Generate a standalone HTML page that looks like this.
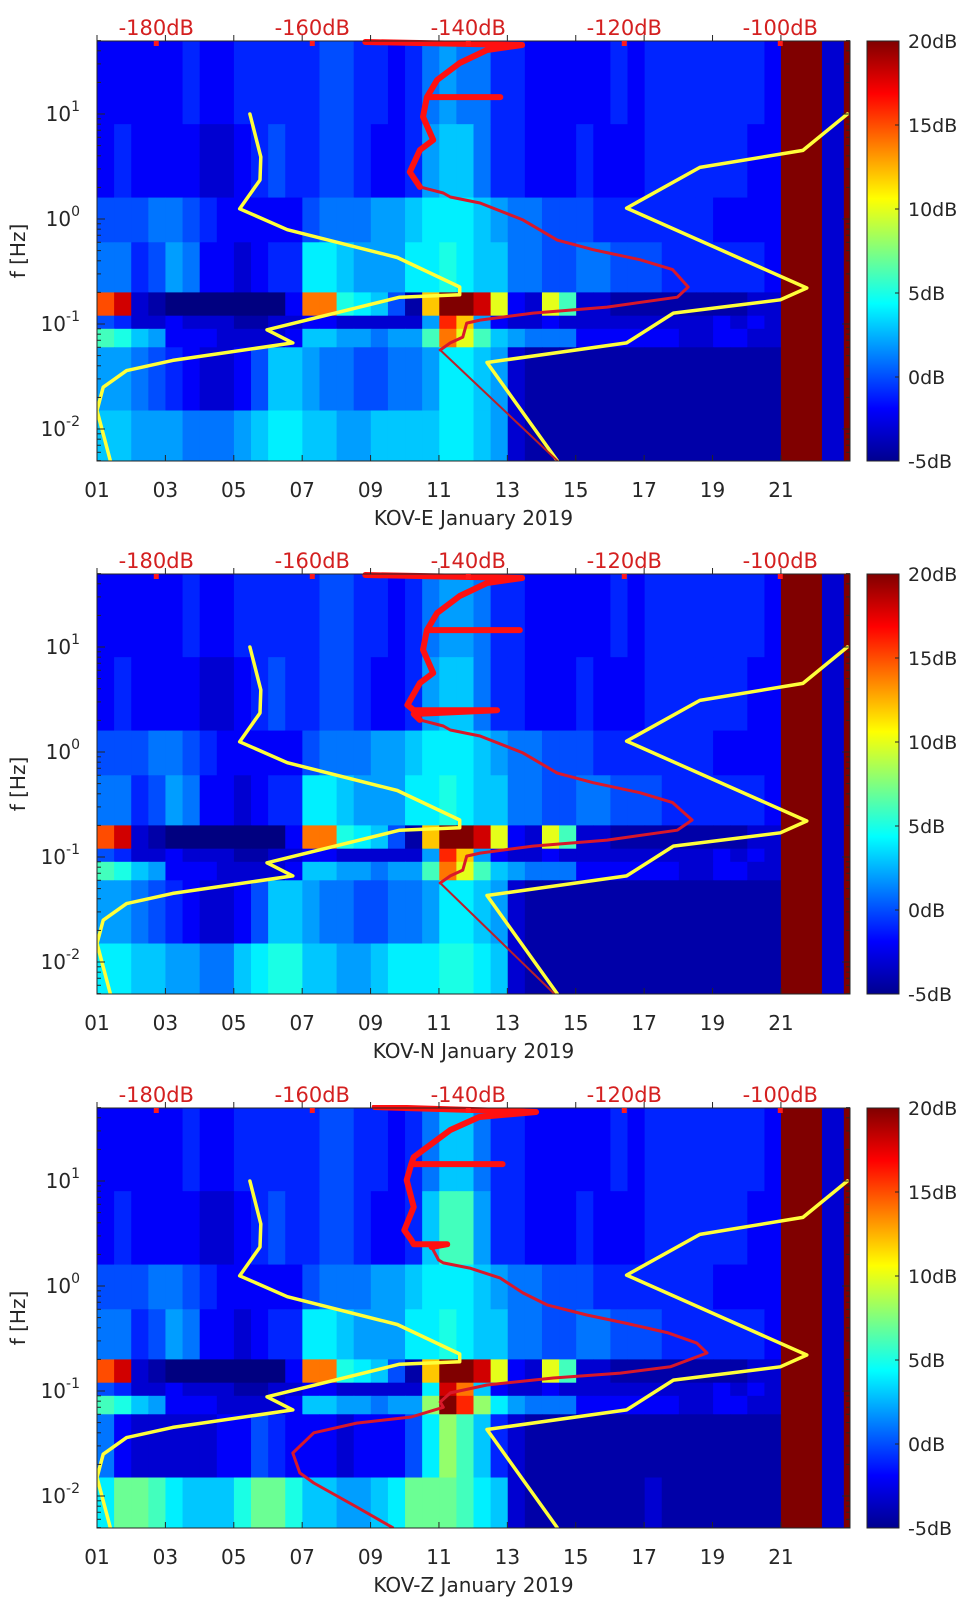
<!DOCTYPE html>
<html><head><meta charset="utf-8">
<style>
html,body{margin:0;padding:0;background:#fff;}
svg{display:block;font-family:"DejaVu Sans","Liberation Sans",sans-serif;}
</style></head>
<body>
<svg id="fig" width="962" height="1599" viewBox="0 0 962 1599" xmlns="http://www.w3.org/2000/svg">
<defs>
<linearGradient id="jet" x1="0" y1="1" x2="0" y2="0">
<stop offset="0" stop-color="#00008f"/>
<stop offset="0.125" stop-color="#0000ff"/>
<stop offset="0.375" stop-color="#00ffff"/>
<stop offset="0.625" stop-color="#ffff00"/>
<stop offset="0.875" stop-color="#ff0000"/>
<stop offset="1" stop-color="#800000"/>
</linearGradient>
</defs>
</svg>
<script>
// ---- data ----
const panelNames = ["KOV-E January 2019","KOV-N January 2019","KOV-Z January 2019"];
const dayTicks = [1,3,5,7,9,11,13,15,17,19,21];
const dayTickLabels = ["01","03","05","07","09","11","13","15","17","19","21"];
const dbTicks = [-180,-160,-140,-120,-100];
const dbTickLabels = ["-180dB","-160dB","-140dB","-120dB","-100dB"];
const cbTicks = [20,15,10,5,0,-5];
const cbTickLabels = ["20dB","15dB","10dB","5dB","0dB","-5dB"];
const rowEdgesHz = [50,8,1.6,0.6,0.2,0.12,0.09,0.06,0.015,0.005];
const gapStart = [21,22.84];
const gapEnd = [22.2,23.02];

const heatE = [
[-2,-2,-2,-2,-2,-1,-2,-2,-1,-1,-1,-1,-1,0,0,-1,-1,-2,-1,1,2,1,1,-1,-1,-2,-2,-2,-2,-2,-1,-2,-1,-1,-1,-1,-1,-1,-1,-2,20,20,-3,-3],
[-2,-1,-2,-2,-2,-2,-3,-3,-2,-1,0,-1,-1,0,0,-1,-2,-2,-1,2,3,3,1,-1,-1,-2,-2,-2,-1,-2,-2,-2,-1,-1,-1,-1,-1,-1,-2,-2,20,20,-3,-3],
[0,0,0,1,1,0,-1,-2,-2,-2,-2,-2,0,1,1,1,2,2,3,4,4,4,3,2,1,1,0,0,0,-1,-1,-1,-1,-1,-1,-1,-2,-2,-2,-2,20,20,-3,-3],
[1,1,-1,0,2,1,-2,-2,-3,-2,-1,-1,4,4,3,2,2,2,4,4,5,4,3,3,1,1,0,0,1,1,0,0,0,-1,-1,-1,-1,-1,-1,-2,20,20,-3,-3],
[15,18,-3,-4,-5,-5,-5,-5,-5,-5,-5,-2,14,14,5,4,3,0,-4,12,20,20,18,10,-2,-3,10,6,-3,-3,-4,-4,-4,-4,-4,-4,-4,-4,-3,-3,20,20,-3,-3],
[0,-1,-3,-3,-2,-3,-3,-3,-4,-4,-3,-3,-2,-2,-3,-3,-3,-3,-3,2,16,12,2,-2,-3,-3,-2,-3,-3,-3,-3,-3,-3,-3,-3,-3,-2,-3,-2,-3,20,20,-3,-3],
[6,5,3,2,-2,-2,-2,-3,-3,-3,-3,-2,3,3,2,2,1,2,2,6,14,10,6,3,2,1,1,1,-2,-2,-2,-2,-2,-2,-3,-3,-2,-2,-3,-3,20,20,-3,-3],
[2,2,1,0,-1,-2,-3,-3,-2,0,3,3,2,1,1,0,0,1,1,2,4,4,3,2,-3,-4,-4,-4,-4,-4,-4,-4,-4,-4,-4,-4,-4,-4,-4,-4,20,20,-3,-3],
[3,3,2,2,2,1,1,1,2,3,4,4,3,3,2,2,3,3,3,3,4,4,3,2,-3,-4,-4,-4,-4,-4,-4,-4,-4,-4,-4,-4,-4,-4,-4,-4,20,20,-3,-3]
];
const heatN = [
[-2,-2,-2,-2,-2,-1,-2,-2,-1,-1,-1,-1,-1,0,0,-1,-1,-2,-1,1,2,2,1,-1,-1,-2,-2,-2,-2,-2,-1,-2,-1,-1,-1,-1,-1,-1,-1,-2,20,20,-3,-3],
[-2,-1,-2,-2,-2,-2,-3,-3,-2,-1,0,-1,-1,0,0,-1,-2,-2,-1,2,3,3,1,-1,-1,-2,-2,-2,-1,-2,-2,-2,-1,-1,-1,-1,-1,-1,-2,-2,20,20,-3,-3],
[0,0,0,1,1,0,-1,-2,-2,-2,-2,-2,0,1,1,1,2,2,3,4,4,4,3,2,1,1,0,0,0,-1,-1,-1,-1,-1,-1,-1,-2,-2,-2,-2,20,20,-3,-3],
[1,1,-1,0,2,1,-2,-2,-3,-2,-1,-1,4,4,3,2,2,2,4,4,5,4,3,3,1,1,0,0,1,1,0,0,0,-1,-1,-1,-1,-1,-1,-2,20,20,-3,-3],
[15,18,-3,-4,-5,-5,-5,-5,-5,-5,-5,-2,14,14,5,4,3,0,-4,12,20,20,18,10,-2,-3,10,6,-3,-3,-4,-4,-4,-4,-4,-4,-4,-4,-3,-3,20,20,-3,-3],
[0,-1,-3,-3,-2,-3,-3,-3,-4,-4,-3,-3,-2,-2,-3,-3,-3,-3,-3,2,16,12,2,-2,-3,-3,-2,-3,-3,-3,-3,-3,-3,-3,-3,-3,-2,-3,-2,-3,20,20,-3,-3],
[6,5,3,2,-2,-2,-2,-3,-3,-3,-3,-2,3,3,2,2,1,2,2,6,14,10,6,3,2,1,1,1,-2,-2,-2,-2,-2,-2,-3,-3,-2,-2,-3,-3,20,20,-3,-3],
[2,2,1,0,-1,-2,-3,-3,-2,0,3,3,2,1,1,0,0,1,1,2,4,4,3,2,-3,-4,-4,-4,-4,-4,-4,-4,-4,-4,-4,-4,-4,-4,-4,-4,20,20,-3,-3],
[4,4,3,3,2,2,1,1,3,4,5,5,3,3,2,2,3,4,4,4,5,5,4,3,-3,-4,-4,-4,-4,-4,-4,-4,-4,-4,-4,-4,-4,-4,-4,-4,20,20,-3,-3]
];
const heatZ = [
[-2,-2,-2,-2,-2,-1,-2,-2,-1,-1,-1,-1,-1,0,0,-1,-1,-2,-1,1,3,3,1,-1,-1,-2,-2,-2,-2,-2,-1,-2,-1,-1,-1,-1,-1,-1,-1,-2,20,20,-3,-3],
[-2,-1,-2,-2,-2,-2,-3,-3,-2,-1,0,-1,-1,0,0,-1,-2,-2,-1,3,6,6,2,-1,-1,-2,-2,-2,-1,-2,-2,-2,-1,-1,-1,-1,-1,-1,-2,-2,20,20,-3,-3],
[0,0,0,1,1,0,-1,-2,-2,-2,-2,-2,0,1,1,1,2,2,3,4,4,4,3,2,1,1,0,0,0,-1,-1,-1,-1,-1,-1,-1,-2,-2,-2,-2,20,20,-3,-3],
[1,1,-1,0,2,1,-2,-2,-3,-2,-1,-1,4,4,3,2,2,2,4,4,5,4,3,3,1,1,0,0,1,1,0,0,0,-1,-1,-1,-1,-1,-1,-2,20,20,-3,-3],
[15,18,-3,-4,-5,-5,-5,-5,-5,-5,-5,-2,14,14,5,4,3,0,-4,12,20,20,18,10,-2,-3,10,6,-3,-3,-4,-4,-4,-4,-4,-4,-4,-4,-3,-3,20,20,-3,-3],
[0,-1,-3,-3,-2,-3,-3,-3,-4,-4,-3,-3,-2,-2,-3,-3,-3,-3,-3,4,18,14,3,-2,-3,-3,-2,-3,-3,-3,-3,-3,-3,-3,-3,-3,-2,-3,-2,-3,20,20,-3,-3],
[6,5,3,2,-2,-2,-2,-3,-3,-3,-3,-2,3,3,2,2,1,2,2,8,20,16,8,4,2,1,1,1,-2,-2,-2,-2,-2,-2,-3,-3,-2,-2,-3,-3,20,20,-3,-3],
[1,-2,-3,-3,-3,-3,-3,-2,-2,0,-1,-2,-2,-2,-3,-2,-2,-2,0,4,8,6,3,-1,-3,-4,-4,-4,-4,-4,-4,-4,-4,-4,-4,-4,-4,-4,-4,-4,20,20,-3,-3],
[4,7,7,6,4,3,3,3,5,7,7,5,3,3,2,2,3,4,7,7,7,6,4,3,-3,-4,-4,-4,-4,-4,-4,-4,-3,-4,-4,-4,-4,-4,-4,-4,20,20,-3,-3]
];

// model curves (same on all panels)
const nlnmHz = [10,3.9,2.35,1.25,0.79,0.43,0.225,0.19,0.18,0.088,0.066,0.045,0.036,0.025,0.015,0.005];
const nlnmDb = [-168.0,-166.6,-166.7,-169.3,-163.2,-149.1,-141.1,-141.1,-148.8,-165.8,-162.5,-177.9,-183.8,-186.8,-187.6,-185.9];
const nhnmHz = [10,4.5,3.1,1.27,0.22,0.17,0.127,0.066,0.043,0.005];
const nhnmDb = [-91.4,-97.1,-110.3,-119.7,-96.6,-100.0,-113.7,-119.7,-137.6,-128.6];

// measured PSD curves
const redHzE = [48.5,45.4,40.7,30.6,21.1,14.5,14.5,14.5,9.4,5.65,4.54,2.8,2.02,1.77,1.62,1.42,0.98,0.63,0.51,0.41,0.33,0.225,0.18,0.145,0.127,0.109,0.102,0.075,0.066,0.0565];
const redDbE = [-153.2,-133.1,-137.6,-141.1,-144.0,-145.3,-135.9,-145.3,-145.8,-144.5,-146.2,-147.5,-146.2,-143.2,-142.3,-138.5,-133.0,-128.6,-124.0,-118.0,-113.8,-111.8,-113.2,-122.2,-131.7,-138.5,-140.2,-140.7,-142.3,-143.6];
const tailHzE = [0.0565,0.005];
const tailDbE = [-143.6,-128.6];
const redHzN = [48.5,45.4,40.7,30.6,21.1,14.5,14.5,14.5,9.4,5.65,4.54,2.8,2.5,2.5,2.3,2.02,1.77,1.62,1.42,0.98,0.63,0.51,0.41,0.33,0.225,0.18,0.145,0.127,0.109,0.102,0.075,0.066,0.0565];
const redDbN = [-153.2,-133.1,-137.6,-141.1,-144.0,-145.3,-133.4,-145.3,-145.8,-144.5,-146.2,-147.8,-147.0,-136.3,-147.0,-146.2,-143.2,-142.3,-138.5,-133.0,-128.6,-124.0,-118.0,-113.8,-111.3,-113.2,-122.2,-131.7,-138.5,-140.2,-140.7,-142.3,-143.6];
const tailHzN = [0.0565,0.005];
const tailDbN = [-143.6,-129.0];
const redHzZ = [50.7,45.4,40.7,30.6,16.9,14.5,14.5,14.5,10.2,5.65,3.4,2.74,2.5,2.5,2.35,1.77,1.66,1.48,1.19,0.86,0.66,0.53,0.44,0.36,0.286,0.23,0.17,0.148,0.133,0.114,0.096,0.0785,0.070,0.0565,0.0495,0.040,0.0257,0.0166,0.0133,0.00785,0.005];
const redDbZ = [-152.0,-131.3,-138.6,-142.3,-147.0,-147.3,-135.6,-147.3,-147.9,-147.0,-148.2,-147.3,-147.0,-142.7,-144.7,-143.8,-143.2,-139.8,-135.9,-133.0,-129.9,-124.8,-119.7,-114.5,-110.7,-109.4,-114.1,-120.5,-129.1,-137.6,-142.3,-143.6,-143.2,-147.3,-154.3,-159.8,-162.5,-161.6,-159.8,-154.3,-149.7];
const tailHzZ = [];
const tailDbZ = [];

// ---- layout ----
const NS = "http://www.w3.org/2000/svg";
const svg = document.getElementById("fig");
const plotL = 97, plotR = 850, plotH = 420;
const panelTops = [41,574,1108];
const dayMin = 1, dayMax = 23.02;
const xDay = d => plotL + (d - dayMin) / (dayMax - dayMin) * (plotR - plotL);
const xDb = db => plotL + (db + 187.6) * 7.8;
const yHz = (top, f) => top + 73 + (1 - Math.log10(f)) * 105;
const cbL = 867, cbW = 32;
const cbY = (top, v) => top + (20 - v) / 25 * plotH;

function jet(v){
  let t = Math.max(0, Math.min(1, (v + 5) / 25));
  const c = x => Math.round(255 * Math.max(0, Math.min(1, x)));
  return `rgb(${c(1.5-Math.abs(4*t-3))},${c(1.5-Math.abs(4*t-2))},${c(1.5-Math.abs(4*t-1))})`;
}
function mk(tag, attrs, parent){
  const e = document.createElementNS(NS, tag);
  for (const k in attrs) e.setAttribute(k, attrs[k]);
  (parent || svg).appendChild(e);
  return e;
}

const heats = [heatE, heatN, heatZ];
const reds = [[redHzE,redDbE,tailHzE,tailDbE],[redHzN,redDbN,tailHzN,tailDbN],[redHzZ,redDbZ,tailHzZ,tailDbZ]];

panelTops.forEach((top, p) => {
  const g = mk("g", {});
  
  
  const clipId = "clip" + p;
  const cp = mk("clipPath", {id: clipId}, g);
  mk("rect", {x: plotL, y: top - 3, width: plotR - plotL, height: plotH + 3}, cp);

  const hm = mk("g", {"clip-path": `url(#${clipId})`}, g);
  
  
  const heat = heats[p];
  const nCols = heat[0].length;
  const colW = (dayMax - dayMin) / nCols;
  heat.forEach((row, r) => {
    const y0 = yHz(top, rowEdgesHz[r]), y1 = yHz(top, rowEdgesHz[r+1]);
    row.forEach((v, c) => {
      const d0 = dayMin + c * colW;
      const cell = mk("rect", {x: xDay(d0), y: y0, width: xDay(d0+colW) - xDay(d0) + 0.5, height: y1 - y0 + 0.5, fill: jet(v)}, hm);
      
      
    });
  });
  gapStart.forEach((s, i) => {
    const gr = mk("rect", {x: xDay(s), y: top, width: xDay(gapEnd[i]) - xDay(s), height: plotH, fill: jet(20)}, hm);
    
    
  });

  // lines
  const lines = mk("g", {"clip-path": `url(#${clipId})`, fill: "none", "stroke-linejoin": "round", "stroke-linecap": "round"}, g);
  const pts = (hz, db) => hz.map((f, i) => xDb(db[i]).toFixed(1) + "," + yHz(top, f).toFixed(1)).join(" ");
  const lo = mk("polyline", {points: pts(nlnmHz, nlnmDb), stroke: "#ffff3a", "stroke-width": 3.5}, lines);
  
  
  const hi = mk("polyline", {points: pts(nhnmHz, nhnmDb), stroke: "#ffff3a", "stroke-width": 3.5}, lines);
  
  
  const [rh, rd, th, td] = reds[p];
  if (th.length) {
    const tl = mk("polyline", {points: pts(th, td), stroke: "#b8202a", "stroke-width": 2}, lines);
    
    
  }
  const rl = mk("polyline", {points: pts(rh, rd), stroke: "#d8182a", "stroke-width": 3}, lines);
  
  
  const hfIdx = rh.findIndex(f => f < 1.9);
  const rt = mk("polyline", {points: pts(rh.slice(0, hfIdx), rd.slice(0, hfIdx)), stroke: "#ff1010", "stroke-width": 6}, lines);
  
  

  // axes box
  const box = mk("rect", {x: plotL, y: top, width: plotR - plotL, height: plotH, fill: "none", stroke: "#262626", "stroke-width": 1}, g);
  
  

  // x ticks
  dayTicks.forEach((d, i) => {
    const x = xDay(d);
    mk("line", {x1: x, y1: top + plotH, x2: x, y2: top + plotH - 6, stroke: "#262626"}, g);
    mk("line", {x1: x, y1: top, x2: x, y2: top - 6, stroke: "#262626"}, g);
    const t = mk("text", {x: x, y: top + plotH + 36, "font-size": 20, "text-anchor": "middle", fill: "#262626"}, g);
    t.textContent = dayTickLabels[i];
    
    
  });
  // top dB ticks
  dbTicks.forEach((db, i) => {
    const x = xDb(db);
    mk("rect", {x: x - 2.5, y: top, width: 5, height: 5, fill: "#ff1a1a"}, g);
    const t = mk("text", {x: x, y: top - 6, "font-size": 21, "text-anchor": "middle", fill: "#d42020"}, g);
    t.textContent = dbTickLabels[i];
    
    
  });
  // y ticks
  for (let e = -3; e <= 1; e++) {
    for (let m = 1; m <= 9; m++) {
      const f = m * Math.pow(10, e);
      if (f < 0.005 || f > 50) continue;
      const y = yHz(top, f), len = m === 1 ? 8 : 4;
      mk("line", {x1: plotL, y1: y, x2: plotL + len, y2: y, stroke: "#262626"}, g);
      mk("line", {x1: plotR, y1: y, x2: plotR - len, y2: y, stroke: "#262626"}, g);
    }
    if (e >= -2) {
      const y = yHz(top, Math.pow(10, e));
      const t = mk("text", {x: 80, y: y + 7, "font-size": 20, "text-anchor": "end", fill: "#262626"}, g);
      
      
      t.appendChild(document.createTextNode("10"));
      const sup = mk("tspan", {dy: -10, "font-size": 14}, t);
      sup.textContent = String(e);
    }
  }
  const yl = mk("text", {x: 0, y: 0, "font-size": 20, "text-anchor": "middle", fill: "#262626", transform: `translate(25,${top + 210}) rotate(-90)`}, g);
  yl.textContent = "f [Hz]";
  
  
  const xl = mk("text", {x: (plotL + plotR) / 2, y: top + plotH + 64, "font-size": 20, "text-anchor": "middle", fill: "#262626"}, g);
  xl.textContent = panelNames[p];
  
  

  // colorbar
  const cb = mk("rect", {x: cbL, y: top, width: cbW, height: plotH, fill: "url(#jet)", stroke: "#262626", "stroke-width": 1}, g);
  
  
  cbTicks.forEach((v, i) => {
    const y = cbY(top, v);
    mk("line", {x1: cbL + cbW, y1: y, x2: cbL + cbW - 4, y2: y, stroke: "#262626"}, g);
    const t = mk("text", {x: cbL + 41, y: y + 7, "font-size": 19, fill: "#262626"}, g);
    t.textContent = cbTickLabels[i];
    
    
  });
});
</script>
</body></html>
